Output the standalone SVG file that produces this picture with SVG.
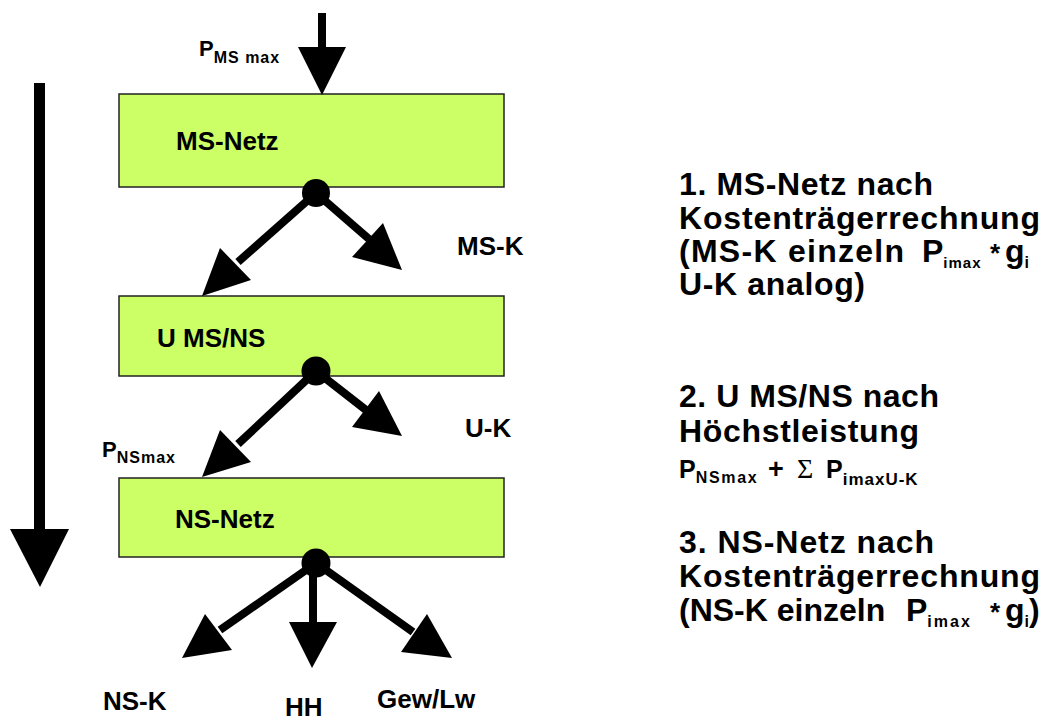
<svg xmlns="http://www.w3.org/2000/svg" width="1046" height="720" viewBox="0 0 1046 720">
<style>
text{font-family:"Liberation Sans",Arial,sans-serif;font-weight:bold;fill:#000}
.box{fill:#CCFF66;stroke:#222;stroke-width:1.5}
.lbl{font-size:26px}
.big{font-size:32px}
.shaft{stroke:#000;stroke-width:8;fill:none}
.head{fill:#000}
.dot{fill:#000}
</style>
<rect width="1046" height="720" fill="#fff"/>
<g id="node-ms-netz">
<rect class="box" x="119" y="94" width="385" height="93"/>
<text class="lbl" x="176" y="150">MS-Netz</text>
</g>
<g id="node-u-ms-ns">
<rect class="box" x="119" y="296" width="385" height="80"/>
<text class="lbl" x="157" y="347">U MS/NS</text>
</g>
<g id="node-ns-netz">
<rect class="box" x="119" y="478" width="385" height="79"/>
<text class="lbl" x="175" y="528">NS-Netz</text>
</g>
<g id="connectors">
<line x1="39.5" y1="83" x2="39.5" y2="532" stroke="#000" stroke-width="11"/>
<polygon class="head" points="10,529 69,529 40,587"/>
<line class="shaft" x1="322" y1="13" x2="322" y2="50"/>
<polygon class="head" points="298,47 346,47 322,95"/>
<circle class="dot" cx="316" cy="193" r="14"/>
<line class="shaft" x1="316" y1="193" x2="238" y2="262"/>
<polygon class="head" points="220,248 251,280 202,296"/>
<line class="shaft" x1="316" y1="193" x2="369" y2="239"/>
<polygon class="head" points="383,223 352,257 402,270"/>
<circle class="dot" cx="316" cy="371" r="14.5"/>
<line class="shaft" x1="316" y1="371" x2="238" y2="444"/>
<polygon class="head" points="220,430 251,462 202,477"/>
<line class="shaft" x1="316" y1="371" x2="366" y2="410"/>
<polygon class="head" points="379,391 352,427 402,436"/>
<circle class="dot" cx="316" cy="563" r="14.5"/>
<line class="shaft" x1="316" y1="563" x2="220" y2="630"/>
<polygon class="head" points="205,614 232,650 182,658"/>
<line class="shaft" x1="313" y1="563" x2="313" y2="624"/>
<polygon class="head" points="289,622 337,622 312,668"/>
<line class="shaft" x1="316" y1="563" x2="413" y2="632"/>
<polygon class="head" points="427,614 401,652 452,658"/>
</g>
<g id="labels">
<text x="199" y="56" font-size="22">P<tspan font-size="16" dy="7" letter-spacing="1">MS max</tspan></text>
<text class="lbl" x="457" y="255">MS-K</text>
<text class="lbl" x="465" y="437">U-K</text>
<text x="102" y="457" font-size="22">P<tspan font-size="16" dy="6" letter-spacing="1">NSmax</tspan></text>
<text class="lbl" x="103" y="710">NS-K</text>
<text class="lbl" x="285" y="716">HH</text>
<text class="lbl" x="377" y="708">Gew/Lw</text>
</g>
<g id="notes">
<text class="big" x="679" y="195" textLength="254">1. MS-Netz nach</text>
<text class="big" x="679" y="229" textLength="361">Kostenträgerrechnung</text>
<text class="big" x="679" y="262"><tspan textLength="225">(MS-K einzeln</tspan><tspan x="922">P</tspan><tspan font-size="15" dy="6" letter-spacing="1">imax</tspan><tspan x="990" dy="-6" font-size="26">*</tspan><tspan x="1005">g</tspan><tspan font-size="16" dy="6">i</tspan></text>
<text class="big" x="679" y="295" textLength="186">U-K analog)</text>
<text class="big" x="679" y="407" textLength="260">2. U MS/NS nach</text>
<text class="big" x="679" y="442" textLength="240">Höchstleistung</text>
<text x="679" y="478" font-size="25">P<tspan font-size="16" dy="5" textLength="61">NSmax</tspan><tspan x="768" dy="-5" font-size="27">+</tspan><tspan x="797" font-family="Liberation Serif,serif" font-weight="normal" font-size="28">Σ</tspan><tspan x="826">P</tspan><tspan font-size="17" dy="7" letter-spacing="1">imaxU-K</tspan></text>
<text class="big" x="679" y="553" textLength="255">3. NS-Netz nach</text>
<text class="big" x="679" y="587" textLength="361">Kostenträgerrechnung</text>
<text class="big" x="679" y="621">(NS-K einzeln<tspan x="906">P</tspan><tspan font-size="16" dy="6" letter-spacing="2">imax</tspan><tspan x="990" dy="-6" font-size="26">*</tspan><tspan x="1005">g</tspan><tspan font-size="16" dy="6">i</tspan><tspan dy="-6">)</tspan></text>
</g>
</svg>
